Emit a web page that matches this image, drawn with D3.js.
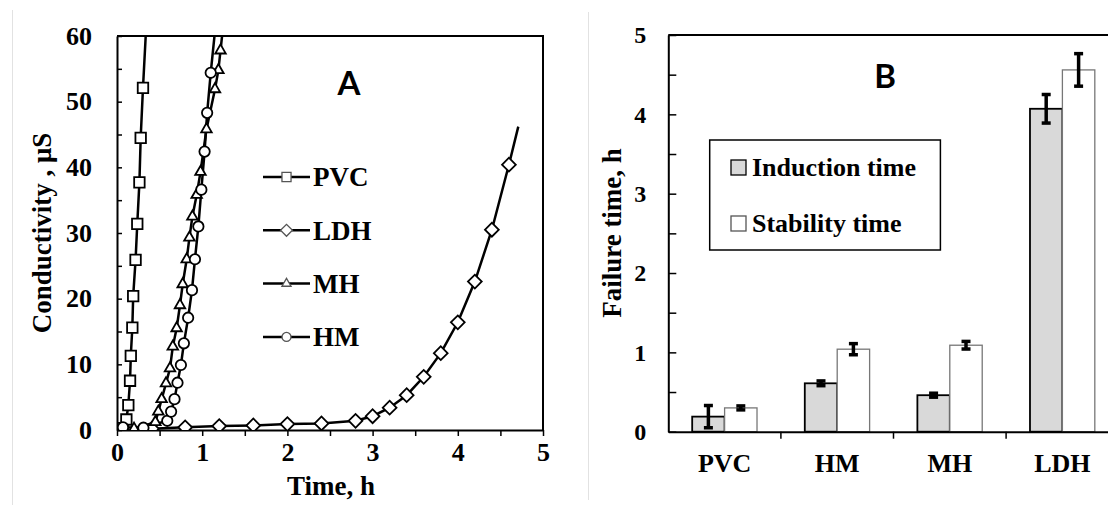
<!DOCTYPE html>
<html lang="en">
<head>
  <meta charset="UTF-8">
  <script src="https://cdn.jsdelivr.net/npm/d3@7/dist/d3.min.js"></script>
  <title>Conductivity and failure time</title>
  <style>
    body { margin: 0; background: #fff; }
    svg { display: block; }
    .axis text { font-family: "Liberation Serif", "Times New Roman", serif; font-weight: bold; fill: #000; }
    .title { font-family: "Liberation Serif", "Times New Roman", serif; font-weight: bold; fill: #000; }
    .panel-tag { font-family: Lato, "Open Sans", sans-serif; font-weight: bold; font-size: 33px; fill: #000; }
  </style>
</head>
<body>
  <script>
    // ---- panel A: conductivity vs time, [time h, conductivity uS]
    // last point of each series is the line end (no marker)
    const pvcPoints = [[0.067, 0.3], [0.11, 1.6], [0.133, 3.8], [0.153, 7.5], [0.162, 11.3], [0.18, 15.6],
      [0.19, 20.4], [0.218, 25.9], [0.238, 31.4], [0.263, 37.7], [0.278, 44.5], [0.305, 52.1], [0.345, 62]];
    const ldhPoints = [[0.41, 0.2], [0.8, 0.4], [1.2, 0.6], [1.6, 0.7], [2.0, 0.9], [2.4, 1.0], [2.8, 1.4],
      [3.0, 2.1], [3.2, 3.4], [3.4, 5.3], [3.6, 8.1], [3.8, 11.7], [4.0, 16.4], [4.2, 22.6], [4.4, 30.5],
      [4.6, 40.4], [4.71, 46.2]];
    const mhPoints = [[0.2, 0.2], [0.45, 1.2], [0.485, 2.8], [0.524, 4.7], [0.575, 7.1], [0.622, 9.4],
      [0.655, 12.7], [0.70, 15.5], [0.739, 19.0], [0.771, 22.2], [0.818, 26.0], [0.85, 29.3], [0.885, 32.5],
      [0.935, 35.8], [0.98, 39.3], [1.05, 45.8], [1.15, 51.9], [1.19, 54.8], [1.215, 57.8], [1.25, 62]];
    const hmPoints = [[0.07, 0.4], [0.31, 0.35], [0.59, 1.4], [0.635, 2.8], [0.675, 4.7], [0.71, 7.2],
      [0.75, 9.9], [0.785, 13.2], [0.835, 17.1], [0.88, 21.3], [0.915, 26.0], [0.955, 31.0], [0.99, 36.6],
      [1.028, 42.4], [1.058, 48.3], [1.1, 54.4], [1.16, 62]];
    const seriesNames = ["PVC", "LDH", "MH", "HM"];
    const xTicksA = [0, 1, 2, 3, 4, 5];
    const yTicksA = [0, 10, 20, 30, 40, 50, 60];

    // ---- panel B: failure time per sample
    const categories = ["PVC", "HM", "MH", "LDH"];
    const inductionTime = [0.19, 0.61, 0.46, 4.07];
    const inductionErr = [0.14, 0.03, 0.025, 0.18];
    const stabilityTime = [0.30, 1.04, 1.09, 4.56];
    const stabilityErr = [0.025, 0.07, 0.048, 0.205];
    const legendLabels = ["Induction time", "Stability time"];
    const yTicksB = [0, 1, 2, 3, 4, 5];

    const width = 1108;
    const height = 505;
    const svg = d3.select("body").append("svg")
      .attr("width", width)
      .attr("height", height);

    // faint frame lines from the pasted images
    svg.append("line").attr("x1", 12.5).attr("x2", 12.5).attr("y1", 10).attr("y2", 505)
      .style("stroke", "#e2e2e2").style("stroke-width", 1);
    svg.append("line").attr("x1", 588.5).attr("x2", 588.5).attr("y1", 12).attr("y2", 500)
      .style("stroke", "#e2e2e2").style("stroke-width", 1);

    // ================= panel A =================
    const xA = d3.scaleLinear().domain([0, 5]).range([117, 543]);
    const yA = d3.scaleLinear().domain([0, 60]).range([430, 36]);

    svg.append("clipPath").attr("id", "clipA")
      .append("rect")
      .attr("x", xA(0)).attr("y", yA(60))
      .attr("width", xA(5) - xA(0)).attr("height", yA(0) - yA(60));

    const xAxisA = d3.axisBottom(xA)
      .tickValues(d3.range(0, 5.01, 0.5))
      .tickSizeInner(6).tickSizeOuter(0).tickPadding(7)
      .tickFormat(d => xTicksA.includes(d) ? d : "");
    const yAxisA = d3.axisLeft(yA)
      .tickValues(d3.range(0, 60.1, 5))
      .tickSizeInner(-5).tickSizeOuter(0).tickPadding(25)
      .tickFormat(d => yTicksA.includes(d) ? d : "");

    // top + right frame
    svg.append("path")
      .attr("d", `M${xA(0)},${yA(60)}H${xA(5)}V${yA(0)}`)
      .style("fill", "none").style("stroke", "#000").style("stroke-width", 2);

    const gxA = svg.append("g").attr("class", "axis")
      .attr("transform", `translate(0,${yA(0)})`).call(xAxisA);
    const gyA = svg.append("g").attr("class", "axis")
      .attr("transform", `translate(${xA(0)},0)`).call(yAxisA);
    [gxA, gyA].forEach(g => {
      g.select(".domain").style("stroke", "#000").style("stroke-width", 2);
      g.selectAll(".tick line").style("stroke", "#000").style("stroke-width", 1.5);
      g.selectAll("text").style("font-size", "26px");
    });

    const line = d3.line()
      .x(d => xA(d[0]))
      .y(d => yA(d[1]));

    const seriesA = [
      { name: "PVC", pts: pvcPoints, sym: d3.symbolSquare, size: 110, rot: 0 },
      { name: "LDH", pts: ldhPoints, sym: d3.symbolSquare, size: 95, rot: 45 },
      { name: "MH", pts: mhPoints, sym: d3.symbolTriangle, size: 48, rot: 0 },
      { name: "HM", pts: hmPoints, sym: d3.symbolCircle, size: 85, rot: 0 }
    ];

    const plotA = svg.append("g").attr("clip-path", "url(#clipA)");
    seriesA.forEach(s => {
      plotA.append("path")
        .datum(s.pts)
        .attr("d", line)
        .style("fill", "none").style("stroke", "#000").style("stroke-width", 2.5);
    });
    seriesA.forEach(s => {
      const shape = d3.symbol().type(s.sym).size(s.size);
      plotA.selectAll(null)
        .data(s.pts.slice(0, -1))
        .join("path")
        .attr("d", shape)
        .attr("transform", d => `translate(${xA(d[0])},${yA(d[1])}) rotate(${s.rot})`)
        .style("fill", "#fff").style("stroke", "#000").style("stroke-width", 1.8);
    });

    // legend A
    const legA = svg.append("g");
    seriesNames.forEach((name, i) => {
      const s = seriesA.find(d => d.name === name);
      const cy = 177 + i * 53.3;
      legA.append("line").attr("x1", 263).attr("x2", 310).attr("y1", cy).attr("y2", cy)
        .style("stroke", "#000").style("stroke-width", 2.5);
      legA.append("path")
        .attr("d", d3.symbol().type(s.sym).size(s.size * 0.75))
        .attr("transform", `translate(286.5,${cy}) rotate(${s.rot})`)
        .style("fill", "#fff").style("stroke", "#555").style("stroke-width", 1.3);
      legA.append("text").attr("class", "title")
        .attr("x", 313).attr("y", cy).attr("dy", "0.35em")
        .style("font-size", "27px")
        .text(name);
    });

    svg.append("text").attr("class", "panel-tag")
      .attr("x", 349).attr("y", 95).attr("text-anchor", "middle").text("A");
    svg.append("text").attr("class", "title")
      .attr("transform", "translate(51,233) rotate(-90)")
      .attr("text-anchor", "middle").style("font-size", "27px")
      .text("Conductivity , μS");
    svg.append("text").attr("class", "title")
      .attr("x", 331).attr("y", 495)
      .attr("text-anchor", "middle").style("font-size", "27px")
      .text("Time, h");

    // ================= panel B =================
    const xB = d3.scaleBand().domain(categories).range([668.3, 1118.7]).padding(0);
    const xSub = d3.scaleBand().domain(["induction", "stability"])
      .range([0, xB.bandwidth()]).paddingInner(0).paddingOuter(0.737);
    const yB = d3.scaleLinear().domain([0, 5]).range([431.7, 35]);

    // top frame line (right side is cut off by the picture edge)
    svg.append("line")
      .attr("x1", xB.range()[0]).attr("x2", xB.range()[1])
      .attr("y1", yB(5)).attr("y2", yB(5))
      .style("stroke", "#000").style("stroke-width", 2);

    const barsB = svg.append("g");
    const barData = categories.map((c, i) => [
      { cat: c, key: "induction", v: inductionTime[i], e: inductionErr[i] },
      { cat: c, key: "stability", v: stabilityTime[i], e: stabilityErr[i] }
    ]).flat();

    barsB.selectAll("rect")
      .data(barData)
      .join("rect")
      .attr("x", d => xB(d.cat) + xSub(d.key))
      .attr("y", d => yB(d.v))
      .attr("width", xSub.bandwidth())
      .attr("height", d => yB(0) - yB(d.v))
      .style("fill", d => d.key === "induction" ? "#d9d9d9" : "#fff")
      .style("stroke", d => d.key === "induction" ? "#000" : "#777")
      .style("stroke-width", d => d.key === "induction" ? 1.8 : 1.3);

    // error bars
    const errG = barsB.selectAll("g.err")
      .data(barData)
      .join("g")
      .attr("class", "err")
      .attr("transform", d => `translate(${xB(d.cat) + xSub(d.key) + xSub.bandwidth() / 2},0)`);
    errG.append("line")
      .attr("y1", d => yB(d.v + d.e)).attr("y2", d => yB(d.v - d.e))
      .style("stroke", "#000").style("stroke-width", 3.5);
    errG.selectAll("line.cap")
      .data(d => [d.v + d.e, d.v - d.e])
      .join("line")
      .attr("class", "cap")
      .attr("x1", -4.5).attr("x2", 4.5)
      .attr("y1", d => yB(d)).attr("y2", d => yB(d))
      .style("stroke", "#000").style("stroke-width", 3.5);

    const yAxisB = d3.axisLeft(yB)
      .tickValues(d3.range(0, 5.01, 0.5))
      .tickSizeInner(-8).tickSizeOuter(0).tickPadding(22)
      .tickFormat(d => yTicksB.includes(d) ? d : "");
    const gyB = svg.append("g").attr("class", "axis")
      .attr("transform", `translate(${xB.range()[0]},0)`).call(yAxisB);
    gyB.select(".domain").style("stroke", "#000").style("stroke-width", 2);
    gyB.selectAll(".tick line").style("stroke", "#000").style("stroke-width", 1.5);
    gyB.selectAll("text").style("font-size", "24px");

    const xAxisB = d3.axisBottom(xB).tickSize(0).tickPadding(22);
    const gxB = svg.append("g").attr("class", "axis")
      .attr("transform", `translate(0,${yB(0)})`).call(xAxisB);
    gxB.select(".domain").style("stroke", "#000").style("stroke-width", 2);
    gxB.selectAll("text").style("font-size", "26px");
    // separators between categories
    gxB.selectAll("line.sep")
      .data(categories.slice(1))
      .join("line")
      .attr("class", "sep")
      .attr("x1", d => xB(d)).attr("x2", d => xB(d))
      .attr("y1", 0).attr("y2", 7)
      .style("stroke", "#000").style("stroke-width", 1.5);

    svg.append("text").attr("class", "title")
      .attr("transform", "translate(621,233) rotate(-90)")
      .attr("text-anchor", "middle").style("font-size", "27px")
      .text("Failure time, h");
    svg.append("text").attr("class", "panel-tag")
      .attr("x", 885).attr("y", 88).attr("text-anchor", "middle").text("B");

    // legend B
    const legB = svg.append("g");
    legB.append("rect")
      .attr("x", 709.7).attr("y", 140).attr("width", 230.7).attr("height", 110)
      .style("fill", "#fff").style("stroke", "#000").style("stroke-width", 1.5);
    legendLabels.forEach((label, i) => {
      const top = i === 0 ? 160 : 216;
      legB.append("rect")
        .attr("x", 731).attr("y", top).attr("width", 15).attr("height", 15)
        .style("fill", i === 0 ? "#d9d9d9" : "#fff")
        .style("stroke", i === 0 ? "#000" : "#555").style("stroke-width", 1.3);
      legB.append("text").attr("class", "title")
        .attr("x", 752).attr("y", top + 16)
        .style("font-size", "26px")
        .text(label);
    });
  </script>
</body>
</html>
